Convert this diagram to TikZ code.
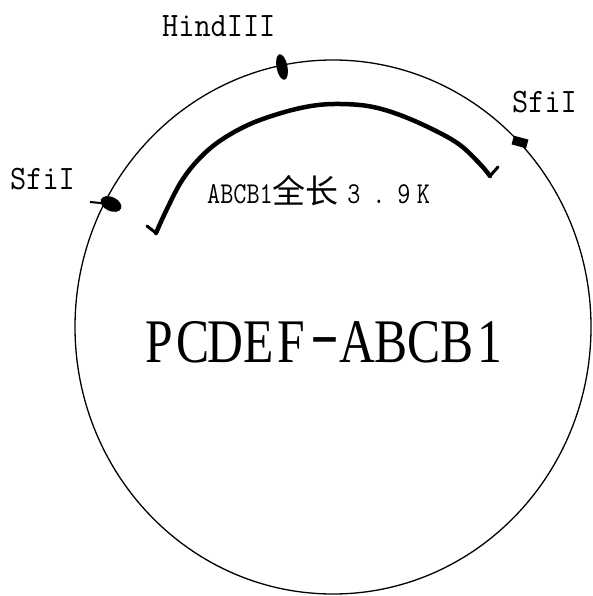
\documentclass[tikz,border=0pt]{standalone}
\usepackage{fontspec}
\usepackage{graphicx}
\usetikzlibrary{shapes.geometric}
\newfontfamily\lserif{Liberation Serif}
\newfontfamily\cjk{Noto Sans CJK SC}
\newcommand\bigc[1]{\makebox[33pt]{\scalebox{0.8}[1]{#1}}}
\begin{document}
\begin{tikzpicture}[x=1pt,y=-1pt,
  site/.style={fill=black, draw=none, inner sep=0pt},
  lbl/.style={inner sep=0pt, anchor=base west, font=\ttfamily\fontsize{31.4}{34}\selectfont},
  gene/.style={line width=4.5pt, line join=round, line cap=round},
  barb/.style={line width=3pt, line cap=round}]
\useasboundingbox (0,0) rectangle (592,596);
% plasmid circle
\node[ellipse, draw, line width=1.3pt, minimum width=516pt, minimum height=534pt, inner sep=0pt] (plasmid) at (333,327) {};
% restriction sites
\node[site, ellipse, minimum width=11pt, minimum height=26pt, rotate=11] (hind) at (282,67) {};
\node[site, rectangle, minimum width=15pt, minimum height=9pt, rotate=-15] (sfiRm) at (520,142) {};
\node[site, ellipse, minimum width=22pt, minimum height=14pt, rotate=-25] (sfiLm) at (111,204) {};
\coordinate (tickL) at (90,202);
\draw[line width=2pt] (tickL) -- (sfiLm.center);
% gene arc
\coordinate (gs) at (156,233);
\coordinate (ge) at (490,176);
\coordinate (gsb) at (147,226);
\coordinate (geb) at (498,167);
\draw[gene] plot[smooth, tension=0.6] coordinates {(gs) (166,211) (181,182) (198,160) (219,141.5) (249,124.5) (283,112.5) (313,105.7) (340,104) (370,106.4) (400,115) (434,130) (460,145) (480,164) (ge)};
\draw[barb] (gs) -- (gsb);
\draw[barb] (ge) -- (geb);
% labels
\node[lbl] (hindlbl) at (162,37) {\scalebox{1}[1.09]{HindIII}};
\node[lbl] (sfiRlbl) at (512,113) {\scalebox{1}[1.09]{SfiI}};
\node[lbl] (sfiLlbl) at (10,189) {\scalebox{1}[1.09]{SfiI}};
\node[inner sep=0pt, anchor=base west] (genelbl) at (207,203) {\ttfamily\fontsize{25.5}{28}\selectfont\scalebox{1}[1.19]{ABCB1}\cjk\fontsize{33}{36}\selectfont 全长\hspace{2pt}\ttfamily\fontsize{25.5}{28}\selectfont\scalebox{1}[1.19]{\makebox[26pt]{3}\makebox[24pt]{.}\makebox[26pt]{9}\makebox[13.4pt]{K}}};
\node[inner sep=0pt, anchor=base west] (name) at (143,362) {\lserif\fontsize{62}{66}\selectfont\bigc{P}\bigc{C}\bigc{D}\bigc{E}\bigc{F}\makebox[33pt]{\raisebox{8pt}{\scalebox{1.4}[1]{-}}}\bigc{A}\bigc{B}\bigc{C}\bigc{B}\bigc{1}};
\end{tikzpicture}
\end{document}
